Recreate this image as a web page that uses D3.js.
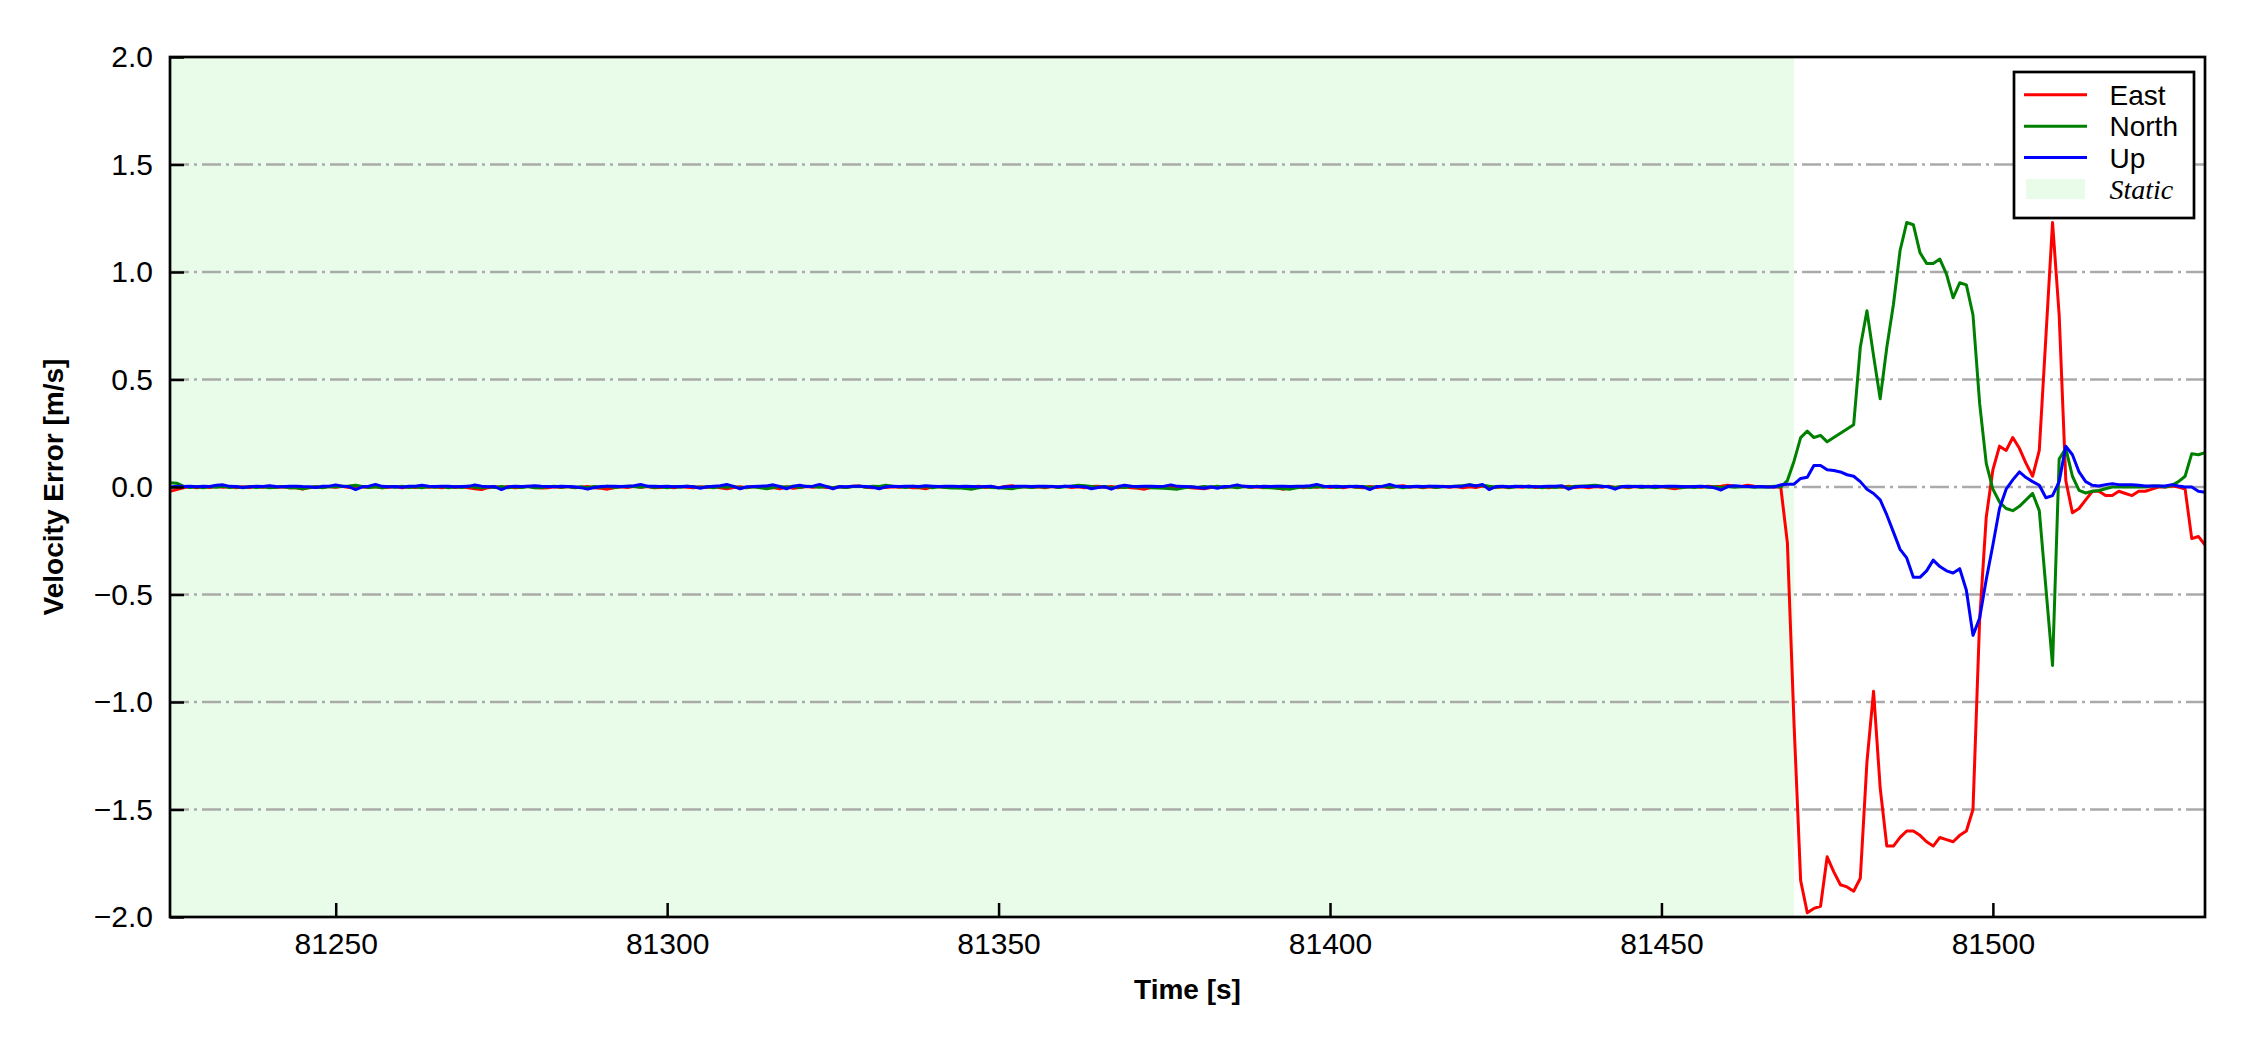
<!DOCTYPE html>
<html lang="en">
<head>
<meta charset="UTF-8">
<title>Velocity Error</title>
<style>
  html, body { margin: 0; padding: 0; background: #fff; }
  svg { display: block; font-family: "Liberation Sans", Arial, sans-serif; }
</style>
</head>
<body>
<svg id="chart" width="2250" height="1050"></svg>
<script src="https://d3js.org/d3.v7.min.js"></script>
<script>
// samples are 1 Hz, first one at startTime
const startTime = 81225;
const timeStep = 1;

const east = [
  // 81225 - 81466 (static)
  -0.02, -0.012, -0.004, 0.002, -0.003, 0.001, -0.002, 0.003, -0.001, 0.002,
  -0.003, 0.001, -0.002, 0.002, -0.001, 0.003, -0.002, 0.001, -0.004, -0.002,
  -0.01, -0.003, 0.001, -0.002, 0.002, -0.001, 0.003, -0.002, -0.004, 0.001,
  -0.002, 0.002, -0.003, -0.001, 0.002, -0.004, 0.001, -0.002, 0.002, -0.001,
  0.001, -0.003, 0.002, -0.002, 0.001, -0.004, -0.008, -0.012, -0.003, 0.001,
  -0.002, 0.002, -0.004, -0.001, 0.003, -0.002, -0.005, -0.003, 0.001, -0.002,
  0.002, -0.003, -0.001, 0.002, -0.004, -0.006, -0.01, -0.004, 0.001, -0.002,
  0.003, -0.001, 0.002, -0.003, -0.002, 0.001, -0.004, 0.002, -0.001, -0.003,
  0.001, -0.002, 0.002, -0.003, -0.008, -0.002, 0.001, -0.003, 0.002, -0.001,
  -0.003, -0.002, -0.008, 0.001, -0.006, -0.002, 0.002, -0.001, 0.003, -0.002,
  -0.004, 0.001, -0.002, 0.003, 0.005, -0.001, -0.003, 0.002, -0.002, 0.001,
  -0.001, 0.002, -0.003, -0.004, -0.008, 0.001, 0.002, -0.002, 0.001, -0.003,
  0.002, -0.001, 0.003, -0.002, 0.001, -0.003, 0.002, 0.006, -0.001, 0.002,
  -0.002, 0.001, -0.003, 0.002, -0.001, 0.003, -0.002, 0.001, -0.004, 0.002,
  0.003, -0.001, 0.002, -0.003, 0.001, -0.004, -0.006, -0.01, -0.002, 0.001,
  -0.002, 0.002, -0.003, 0.001, -0.004, -0.006, -0.008, -0.002, 0.001, -0.003,
  0.002, -0.001, 0.003, -0.002, 0.001, -0.004, 0.002, -0.005, -0.01, -0.002,
  0.001, -0.003, 0.002, -0.001, 0.003, -0.002, 0.001, -0.004, 0.002, -0.001,
  -0.003, 0.002, -0.002, 0.001, -0.004, 0.002, 0.006, -0.001, 0.002, -0.003,
  0.001, -0.002, 0.003, -0.001, 0.002, -0.003, 0.001, -0.002, 0.004, 0.002,
  -0.002, 0.001, -0.003, 0.002, -0.001, 0.003, -0.002, 0.001, -0.004, 0.002,
  -0.001, 0.003, -0.002, 0.001, -0.003, 0.002, -0.001, 0.004, -0.002, 0.001,
  -0.003, 0.002, -0.001, 0.003, -0.002, 0.001, -0.004, -0.008, -0.002, 0.001,
  0.002, -0.001, 0.003, 0.001, 0.004, 0.008, 0.003, 0.002, 0.008, 0.004,
  0.002, 0.001,
  // 81467 - 81532 (moving)
  0, 0, -0.26, -1.1, -1.83, -1.98, -1.96, -1.95, -1.72, -1.79,
  -1.85, -1.86, -1.88, -1.82, -1.28, -0.95, -1.40, -1.67, -1.67, -1.63,
  -1.60, -1.60, -1.62, -1.65, -1.67, -1.63, -1.64, -1.65, -1.62, -1.60,
  -1.50, -0.62, -0.14, 0.08, 0.19, 0.17, 0.23, 0.18, 0.11, 0.05,
  0.17, 0.70, 1.23, 0.80, 0.03, -0.12, -0.10, -0.06, -0.02, -0.02,
  -0.04, -0.04, -0.02, -0.03, -0.04, -0.02, -0.02, -0.01, 0, 0,
  0.005, 0, -0.01, -0.24, -0.23, -0.27
];

const north = [
  0.02, 0.018, 0.004, -0.002, 0.001, -0.003, 0.002, -0.001, 0.003, -0.002,
  0.001, -0.003, 0.002, -0.002, 0.001, -0.003, -0.001, 0.002, -0.004, -0.003,
  -0.008, -0.002, 0.001, -0.003, 0.002, 0.001, 0.003, 0.005, 0.008, 0.002,
  -0.002, 0.001, -0.003, 0.002, -0.001, 0.003, -0.002, 0.001, -0.003, 0.002,
  -0.001, 0.002, -0.003, 0.001, -0.002, 0.003, -0.001, -0.004, 0.001, -0.002,
  0.002, -0.003, 0.001, -0.002, 0.002, -0.004, -0.002, 0.001, 0.003, -0.001,
  0.002, -0.002, 0.001, -0.003, 0.002, -0.001, 0.003, -0.002, 0.001, 0.004,
  0.002, -0.001, 0.003, -0.002, 0.001, -0.003, 0.002, -0.001, 0.003, 0.001,
  -0.002, 0.001, -0.003, 0.002, -0.001, 0.003, -0.004, -0.002, 0.001, -0.003,
  -0.008, -0.002, 0.002, -0.001, 0.003, -0.002, 0.004, 0.002, -0.001, 0.002,
  -0.003, 0.001, -0.002, 0.002, 0.004, -0.001, 0.003, 0.002, 0.008, 0.003,
  0.001, -0.002, 0.003, -0.001, 0.002, -0.003, 0.001, -0.002, -0.005, -0.004,
  -0.007, -0.01, -0.004, 0.001, -0.002, -0.004, -0.006, -0.008, -0.002, 0.001,
  -0.002, 0.002, -0.001, 0.003, -0.002, 0.001, 0.004, 0.008, 0.006, 0.002,
  -0.001, 0.002, -0.003, 0.001, -0.002, 0.003, -0.001, 0.002, -0.003, -0.005,
  -0.006, -0.008, -0.01, -0.004, 0.001, -0.002, 0.002, -0.001, 0.003, -0.002,
  0.001, -0.003, 0.002, -0.001, 0.003, -0.002, -0.004, -0.006, -0.008, -0.01,
  -0.004, 0.001, -0.002, 0.002, -0.001, 0.003, -0.002, 0.001, 0.003, -0.001,
  0.002, -0.002, 0.001, 0.003, -0.001, 0.002, -0.003, 0.001, 0.002, -0.001,
  0.003, -0.002, 0.001, 0.002, 0.004, 0.006, 0.01, 0.006, 0.008, 0.003,
  -0.001, 0.002, -0.002, 0.001, 0.003, -0.001, 0.002, -0.003, 0.001, -0.002,
  0.002, -0.001, 0.003, 0.004, 0.006, 0.008, 0.004, 0.001, -0.002, 0.002,
  -0.001, 0.003, -0.002, 0.001, -0.003, 0.002, -0.001, 0.002, -0.003, 0.001,
  -0.002, 0.002, -0.001, 0.001, -0.003, 0.002, -0.001, 0.001, 0.002, -0.001,
  0.001, 0,
  0.003, 0, 0.03, 0.12, 0.23, 0.26, 0.23, 0.24, 0.21, 0.23,
  0.25, 0.27, 0.29, 0.65, 0.82, 0.61, 0.41, 0.65, 0.85, 1.10,
  1.23, 1.22, 1.09, 1.04, 1.04, 1.06, 0.99, 0.88, 0.95, 0.94,
  0.80, 0.39, 0.11, -0.01, -0.07, -0.10, -0.11, -0.09, -0.06, -0.03,
  -0.11, -0.47, -0.83, 0.13, 0.18, 0.05, -0.016, -0.028, -0.02, -0.016,
  -0.008, 0, 0, 0, 0, 0, 0, 0.005, 0.005, 0,
  0.008, 0.025, 0.05, 0.155, 0.15, 0.16
];

const up = [
  0, 0.003, 0.002, 0.004, 0.001, 0.003, 0.002, 0.008, 0.01, 0.003,
  0.002, -0.002, 0.001, 0.003, 0.002, 0.006, 0.002, 0.001, 0.003, 0.004,
  0.002, 0.001, -0.002, 0.003, 0.004, 0.01, 0.004, 0.002, -0.012, 0.001,
  0.004, 0.012, 0.003, 0.001, 0.002, -0.001, 0.003, 0.004, 0.008, 0.003,
  0.002, 0.004, 0.003, 0.001, 0.002, 0.003, 0.01, 0.004, 0.001, 0.002,
  -0.012, 0.001, 0.003, 0.002, 0.004, 0.006, 0.003, 0.002, 0.001, 0.003,
  0.002, 0.001, -0.003, -0.01, -0.002, 0.002, 0.004, 0.003, 0.002, 0.004,
  0.006, 0.012, 0.004, 0.003, 0.002, 0.004, 0.001, 0.002, 0.003, 0.001,
  -0.006, 0.001, 0.004, 0.006, 0.012, 0.003, -0.008, 0.001, 0.002, 0.004,
  0.005, 0.01, 0.002, -0.008, 0.003, 0.008, 0.002, 0.004, 0.012, 0.003,
  -0.008, 0.002, 0.001, 0.003, 0.004, 0.002, -0.001, -0.008, 0.001, 0.003,
  0.002, 0.004, 0.003, 0.002, 0.006, 0.004, 0.002, 0.003, 0.004, 0.002,
  0.003, 0.002, 0.001, 0.002, 0.003, -0.004, 0.001, 0.002, 0.004, 0.003,
  0.002, 0.004, 0.003, 0.002, 0.001, 0.003, 0.004, 0.002, 0.001, -0.008,
  -0.002, 0.001, -0.01, 0.002, 0.008, 0.003, 0.002, 0.004, 0.003, 0.002,
  0.004, 0.01, 0.003, 0.002, 0.001, -0.002, -0.006, 0.001, -0.006, 0.002,
  0.004, 0.01, 0.003, 0.002, 0.001, 0.003, 0.002, 0.004, 0.003, 0.002,
  0.003, 0.004, 0.006, 0.012, 0.004, 0.002, 0.003, 0.001, 0.002, 0.003,
  0.001, -0.012, 0.002, 0.004, 0.012, 0.003, 0.002, 0.001, 0.003, 0.002,
  0.004, 0.003, 0.002, 0.001, 0.003, 0.004, 0.01, 0.005, 0.012, -0.012,
  0.002, 0.003, 0.001, 0.004, 0.002, 0.003, 0.001, 0.002, 0.004, 0.003,
  0.006, -0.01, 0.001, 0.003, 0.002, 0.004, 0.003, 0.001, -0.01, 0.002,
  0.003, 0.002, 0.004, 0.001, 0.003, 0.002, 0.004, 0.003, 0.002, 0.001,
  0.002, 0.003, 0.001, -0.004, -0.014, 0.002, 0.006, 0.003, 0.002, 0.001,
  0.002, 0,
  0, 0.01, 0.013, 0.013, 0.04, 0.045, 0.10, 0.10, 0.08, 0.077,
  0.07, 0.057, 0.05, 0.025, -0.01, -0.03, -0.06, -0.13, -0.21, -0.29,
  -0.33, -0.42, -0.42, -0.39, -0.34, -0.37, -0.39, -0.40, -0.38, -0.48,
  -0.69, -0.61, -0.43, -0.27, -0.10, -0.01, 0.033, 0.07, 0.044, 0.025,
  0.008, -0.05, -0.04, 0.025, 0.19, 0.15, 0.07, 0.025, 0.008, 0.005,
  0.011, 0.015, 0.011, 0.011, 0.011, 0.008, 0.005, 0.005, 0.005, 0.005,
  0.011, 0.005, 0, 0, -0.02, -0.025
];

const seriesNames = ['East', 'North', 'Up'];
const seriesColors = ['#ff0000', '#008000', '#0000ff'];
const staticSpan = [81225, 81470];
const xDomain = [81225, 81532];
const yDomain = [-2, 2];
const xTicks = [81250, 81300, 81350, 81400, 81450, 81500];
const yTicks = [-2, -1.5, -1, -0.5, 0, 0.5, 1, 1.5, 2];
const gridLevels = [-1.5, -1, -0.5, 0, 0.5, 1, 1.5];

const staticColor = '#e9fce9';
const plot = { left: 170, top: 57, right: 2205, bottom: 917 };

const svg = d3.select('#chart');
svg.append('rect').attr('width', 2250).attr('height', 1050).attr('fill', '#fff');

const x = d3.scaleLinear().domain(xDomain).range([plot.left, plot.right]);
const y = d3.scaleLinear().domain(yDomain).range([plot.bottom, plot.top]);

svg.append('clipPath').attr('id', 'clip')
  .append('rect')
  .attr('x', plot.left).attr('y', plot.top)
  .attr('width', plot.right - plot.left).attr('height', plot.bottom - plot.top);

// static period shading
svg.append('rect')
  .attr('x', x(staticSpan[0]))
  .attr('y', plot.top)
  .attr('width', x(staticSpan[1]) - x(staticSpan[0]))
  .attr('height', plot.bottom - plot.top)
  .attr('fill', staticColor);

// horizontal dash-dot grid
svg.append('g').selectAll('line')
  .data(gridLevels)
  .enter()
  .append('line')
  .attr('x1', plot.left).attr('x2', plot.right)
  .attr('y1', d => y(d)).attr('y2', d => y(d))
  .attr('stroke', '#aaaaaa')
  .attr('stroke-width', 2.4)
  .attr('stroke-dasharray', '19,5,3,5');

const times = east.map((_, i) => startTime + i * timeStep);
const series = [east, north, up];

const line = d3.line()
  .x((d, i) => x(times[i]))
  .y(d => y(d));

const lines = svg.append('g').attr('clip-path', 'url(#clip)');
series.forEach((values, k) => {
  lines.append('path')
    .datum(values)
    .attr('d', line)
    .attr('fill', 'none')
    .attr('stroke', seriesColors[k])
    .attr('stroke-width', 3)
    .attr('stroke-linejoin', 'round');
});

// axes, ticks pointing inward
const xAxis = svg.append('g')
  .attr('transform', `translate(0,${plot.bottom})`)
  .call(d3.axisBottom(x).tickValues(xTicks).tickFormat(d3.format('d'))
    .tickSizeInner(-14).tickSizeOuter(0).tickPadding(16));

const yAxis = svg.append('g')
  .attr('transform', `translate(${plot.left},0)`)
  .call(d3.axisLeft(y).tickValues(yTicks).tickFormat(d3.format('.1f'))
    .tickSizeInner(-14).tickSizeOuter(0).tickPadding(17));

[xAxis, yAxis].forEach(g => {
  g.select('.domain').remove();
  g.selectAll('.tick line').attr('stroke', '#000').attr('stroke-width', 2.5);
  g.selectAll('.tick text')
    .attr('fill', '#000')
    .attr('font-size', 30)
    .attr('font-family', '"Liberation Sans", Arial, sans-serif');
});

// frame
svg.append('rect')
  .attr('x', plot.left).attr('y', plot.top)
  .attr('width', plot.right - plot.left).attr('height', plot.bottom - plot.top)
  .attr('fill', 'none')
  .attr('stroke', '#000')
  .attr('stroke-width', 2.7);

// axis labels
svg.append('text')
  .attr('x', (plot.left + plot.right) / 2)
  .attr('y', 999)
  .attr('text-anchor', 'middle')
  .attr('font-size', 28)
  .attr('font-weight', 'bold')
  .text('Time [s]');

svg.append('text')
  .attr('transform', `translate(63,${(plot.top + plot.bottom) / 2}) rotate(-90)`)
  .attr('text-anchor', 'middle')
  .attr('font-size', 28)
  .attr('font-weight', 'bold')
  .text('Velocity Error [m/s]');

// legend
const legend = svg.append('g').attr('transform', 'translate(2014,72)');
legend.append('rect')
  .attr('width', 180).attr('height', 146)
  .attr('fill', '#fff')
  .attr('stroke', '#000')
  .attr('stroke-width', 2.7);

const rowY = [22.7, 54.3, 85.6, 117];
seriesNames.forEach((name, k) => {
  legend.append('line')
    .attr('x1', 10).attr('x2', 73)
    .attr('y1', rowY[k]).attr('y2', rowY[k])
    .attr('stroke', seriesColors[k])
    .attr('stroke-width', 3);
  legend.append('text')
    .attr('x', 95.5).attr('y', rowY[k])
    .attr('dy', '0.36em')
    .attr('font-size', 28)
    .text(name);
});
legend.append('rect')
  .attr('x', 12).attr('y', rowY[3] - 10)
  .attr('width', 59).attr('height', 20)
  .attr('fill', staticColor);
legend.append('text')
  .attr('x', 95.5).attr('y', rowY[3])
  .attr('dy', '0.36em')
  .attr('font-size', 28)
  .attr('font-style', 'italic')
  .attr('font-family', '"Liberation Serif", "Times New Roman", serif')
  .text('Static');
</script>
</body>
</html>
